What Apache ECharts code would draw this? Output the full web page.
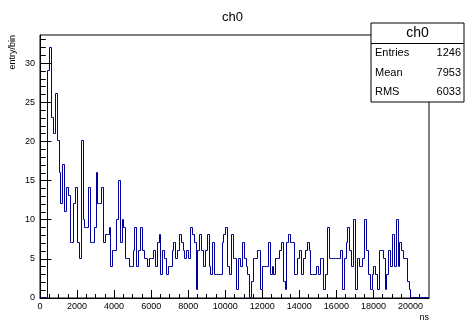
<!DOCTYPE html>
<html><head><meta charset="utf-8">
<script src="https://cdn.jsdelivr.net/npm/echarts@6/dist/echarts.min.js"></script>
<style>html,body{margin:0;padding:0;background:#fff}#c{width:465px;height:325px}</style>
</head><body><div id="c"></div>
<script>
const titleText = 'ch0';
const xTitle = 'ns';
const yTitle = 'entry/bin';
const binWidth = 100;
const xMin = 0, xMax = 21000;
const yMin = 0, yMax = 33.6;
const counts = [
0,0,0,0,
29,32,23,21,26,20,16,12,17,11,14,13,7,7,12,14,7,5,20,
10,9,9,14,7, 7,9,16,12,12, 14,7,8,8,9, 4,6,6,10,15, 7,10,9,5,5, 4,4,6,9,4, 6,
9,6,5,5,4,5,5,6,4,7, 8,3,6,5,3,4,4,6,7,5, 6,8,7,6,5,6,5,9,8,7, 1,6,8,6,4,6,8,4,3,7, 3,3,3,3,7,8,9,4,3,8, 5,5,1,5,4,7,5,4,3,0, 2,5,5,6,6,1,
4,4,4,7,3,4,3,5,5,6,7,2,1,
7,8,7,7,3,3,5,6,3,5,6,7,6,3,3,3,4,3,5,5,1,
3,9,5,5,5,5,5,5,6,1,
5,7,9,6,4,10,1,5,4,
4,5,10,6,3,1,3,4,3,1,6,6,5,1,
3,6,4,8,4,10,4,7,6,5,5,2,1,
0,0,0,0,0,0,0,0,0,0
];
const xMajorTicks = [0,2000,4000,6000,8000,10000,12000,14000,16000,18000,20000];
const xMinorTicks = [500,1000,1500,2500,3000,3500,4500,5000,5500,6500,7000,7500,8500,9000,9500,10500,11000,11500,12500,13000,13500,14500,15000,15500,16500,17000,17500,18500,19000,19500,20500];
const yMajorTicks = [0,5,10,15,20,25,30];
const yMinorTicks = [1,2,3,4,6,7,8,9,11,12,13,14,16,17,18,19,21,22,23,24,26,27,28,29,31,32,33];
const statsNames = ['Entries','Mean','RMS'];
const statsValues = ['1246','7953','6033'];

// one item per bin: [low edge, high edge, content, previous bin content]
const bins = counts.map((c, i) => [xMin + i * binWidth, xMin + (i + 1) * binWidth, c, i > 0 ? counts[i - 1] : 0]);

const FONT = 'Liberation Sans, Arial, Helvetica, sans-serif';
const G = {left: 40, top: 35, width: 389, height: 263};
const chart = echarts.init(document.getElementById('c'), null, {renderer: 'canvas'});

const lbl = {color: '#000', fontFamily: FONT, fontSize: 9, formatter: v => String(v)};
function xAx(ticks, len, labels) {
  return {
    type: 'value', min: xMin, max: xMax, position: 'bottom',
    axisLine: {show: labels, lineStyle: {color: '#000', width: 1}},
    axisTick: {show: true, inside: true, length: len, customValues: ticks, lineStyle: {color: '#000'}},
    axisLabel: labels ? Object.assign({show: true, customValues: ticks, margin: 4}, lbl) : {show: false},
    splitLine: {show: false}
  };
}
function yAx(ticks, len, labels) {
  return {
    type: 'value', min: yMin, max: yMax, position: 'left',
    axisLine: {show: labels, lineStyle: {color: '#000', width: 1}},
    axisTick: {show: true, inside: true, length: len, customValues: ticks, lineStyle: {color: '#000'}},
    axisLabel: labels ? Object.assign({show: true, customValues: ticks, margin: 5}, lbl) : {show: false},
    splitLine: {show: false}
  };
}
const snap = p => [Math.round(p[0]) + 0.5, Math.round(p[1]) - 0.5];

const BX = 371, BY = 23, BW = 93, BH = 79;
chart.setOption({
  animation: false,
  backgroundColor: '#fff',
  title: {text: titleText, left: 'center', top: 6, textStyle: {fontFamily: FONT, fontSize: 13, fontWeight: 'normal', color: '#000'}},
  grid: Object.assign({show: true, borderColor: '#000', borderWidth: 1, backgroundColor: 'transparent'}, G),
  xAxis: [xAx(xMajorTicks, 8, true), xAx(xMinorTicks, 4, false)],
  yAxis: [yAx(yMajorTicks, 11.5, true), yAx(yMinorTicks, 5.8, false)],
  series: [{
    type: 'custom', xAxisIndex: 0, yAxisIndex: 0, clip: true,
    data: bins,
    encode: {x: [0, 1], y: 2},
    renderItem: function (params, api) {
      const x0 = api.value(0), x1 = api.value(1), v = api.value(2), pv = api.value(3);
      const a = snap(api.coord([x0, pv])), b = snap(api.coord([x0, v])), c = snap(api.coord([x1, v]));
      return {type: 'polyline', shape: {points: [a, b, c]}, style: {stroke: '#000099', lineWidth: 1, fill: null}};
    }
  }],
  graphic: [
    {type: 'text', x: 429, y: 318, style: {text: xTitle, fontFamily: FONT, fontSize: 9, fill: '#000', align: 'right', verticalAlign: 'middle'}, z: 10},
    {type: 'text', x: 8, y: 35, rotation: Math.PI / 2, style: {text: yTitle, fontFamily: FONT, fontSize: 9, fill: '#000', align: 'right', verticalAlign: 'top'}, z: 10},
    {type: 'rect', shape: {x: BX, y: BY, width: BW, height: BH}, style: {fill: '#fff', stroke: '#000', lineWidth: 1}, z: 20},
    {type: 'line', shape: {x1: BX, y1: 43.5, x2: BX + BW, y2: 43.5}, style: {stroke: '#000', lineWidth: 1}, z: 21},
    {type: 'text', x: BX + BW / 2, y: 33, style: {text: titleText, fontFamily: FONT, fontSize: 14, fill: '#000', align: 'center', verticalAlign: 'middle'}, z: 21},
    ...statsNames.map((n, i) => ({type: 'text', x: BX + 4, y: 53 + i * 19.5, style: {text: n, fontFamily: FONT, fontSize: 11, fill: '#000', align: 'left', verticalAlign: 'middle'}, z: 21})),
    ...statsValues.map((v, i) => ({type: 'text', x: BX + BW - 3, y: 53 + i * 19.5, style: {text: v, fontFamily: FONT, fontSize: 11, fill: '#000', align: 'right', verticalAlign: 'middle'}, z: 21}))
  ]
});
</script></body></html>
